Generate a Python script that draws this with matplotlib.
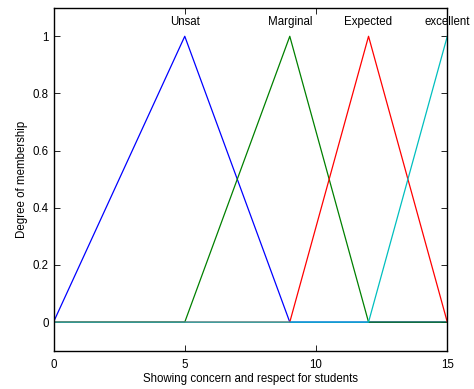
import numpy as np
import matplotlib.pyplot as plt

plt.rcParams['font.family'] = ['Liberation Sans', 'DejaVu Sans']

# membership functions on the input range [0, 15]
x_range = [0, 15]
mf_names = ['Unsat', 'Marginal', 'Expected', 'excellent']
mf_params = [[0, 5, 9], [5, 9, 12], [9, 12, 15], [12, 15, 18]]
mf_colors = ['#0000ff', '#008000', '#ff0000', '#00bfbf']


def trimf(x, p):
    a, b, c = p
    y = np.zeros_like(x)
    up = (x > a) & (x <= b)
    y[up] = (x[up] - a) / (b - a)
    down = (x > b) & (x < c)
    y[down] = (c - x[down]) / (c - b)
    return y


x = np.linspace(x_range[0], x_range[1], 181)

fig = plt.figure(figsize=(4.74, 3.89), dpi=100)
ax = fig.add_axes([53.5 / 474, 1 - 350.7 / 389, (447.3 - 53.5) / 474, (350.7 - 7.7) / 389])

for name, p, col in zip(mf_names, mf_params, mf_colors):
    ax.plot(x, trimf(x, p), color=col, linewidth=0.9)
    ax.text(p[1], 1.05, name, ha='center', va='center', fontsize=8.3, clip_on=False)

ax.set_xlim(x_range)
ax.set_ylim(-0.1, 1.1)
ax.set_xticks([0, 5, 10, 15])
ax.set_yticks([0, 0.2, 0.4, 0.6, 0.8, 1])
ax.set_yticklabels(['0', '0.2', '0.4', '0.6', '0.8', '1'])
ax.tick_params(direction='in', top=True, right=True, length=4, width=0.6, labelsize=8.3)
ax.tick_params(axis='x', pad=6)
for s in ax.spines.values():
    s.set_linewidth(1.0)
ax.set_xlabel('Showing concern and respect for students', fontsize=8.3, labelpad=1.5)
ax.set_ylabel('Degree of membership', fontsize=8.3, labelpad=3)

fig.savefig('out.png', dpi=100)
